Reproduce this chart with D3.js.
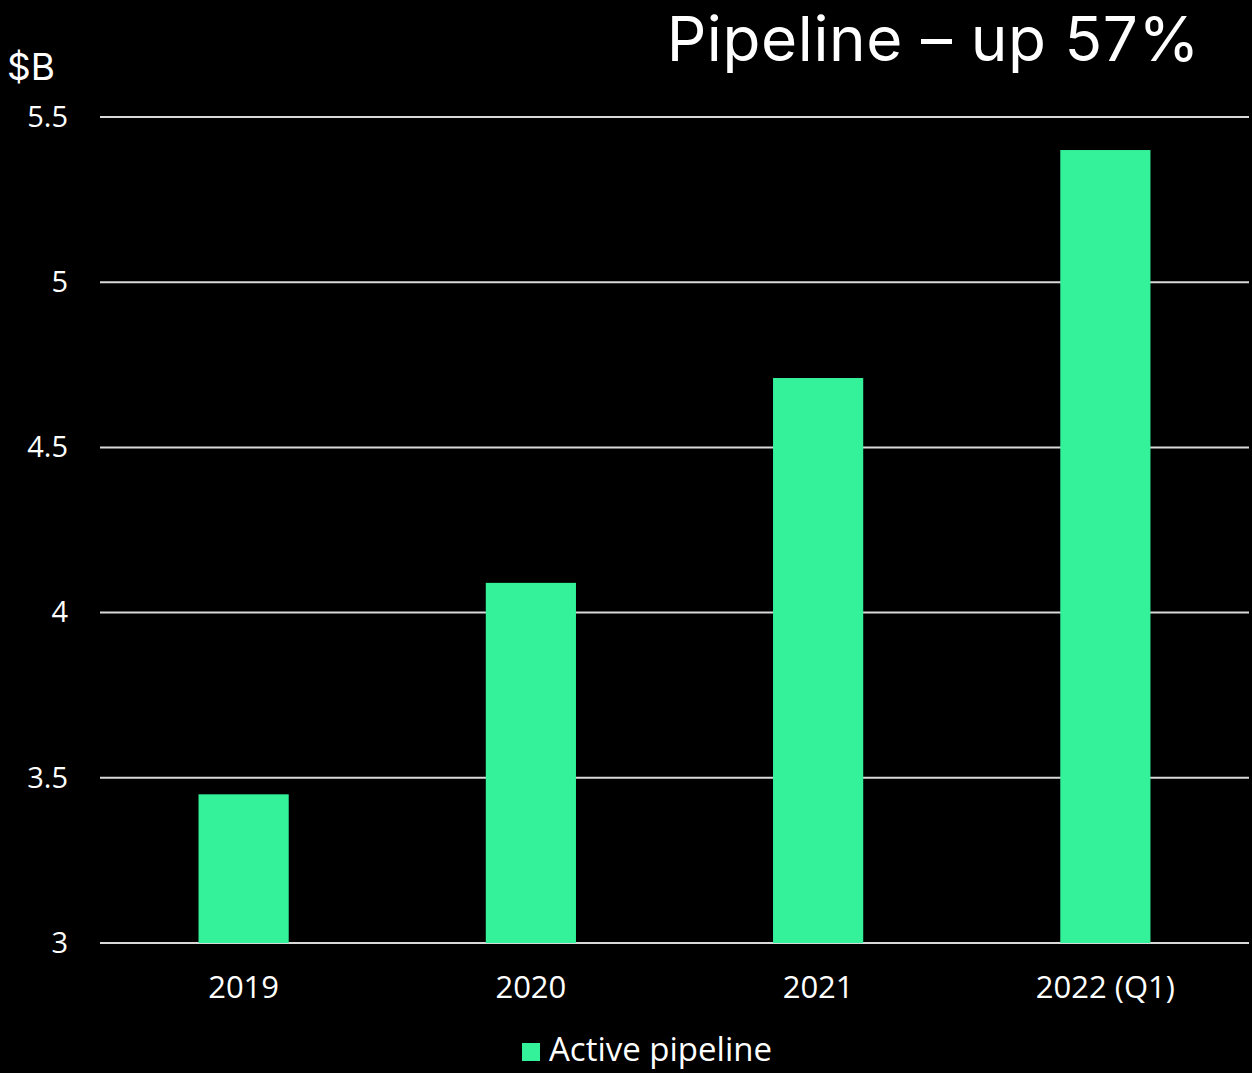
<!DOCTYPE html>
<html lang="en">
<head>
<meta charset="UTF-8">
<title>Pipeline</title>
<style>
    html, body { margin: 0; padding: 0; background: #000; }
    svg { display: block; }
</style>
</head>
<body>
<div id="content"></div>
<script src="https://d3js.org/d3.v7.min.js"></script>
<script>
    // data
    var years = ["2019", "2020", "2021", "2022 (Q1)"];
    var pipeline = [3.45, 4.09, 4.71, 5.40];
    var yTicks = [3, 3.5, 4, 4.5, 5, 5.5];
    var seriesName = "Active pipeline";

    var width = 1252, height = 1073;
    var margin = { top: 117, right: 3, bottom: 130, left: 100 };
    var green = "#33f29a";
    var labelFont = "'Open Sans', 'Noto Sans', sans-serif";

    var svg = d3.select("#content")
        .append("svg")
        .attr("width", width)
        .attr("height", height)
        .style("background", "#000");

    var x = d3.scaleBand()
        .domain(years)
        .range([margin.left, width - margin.right])
        .padding(0);

    var y = d3.scaleLinear()
        .domain([3, 5.5])
        .range([height - margin.bottom, margin.top]);

    // gridlines
    svg.append("g")
        .selectAll("line")
        .data(yTicks)
        .enter()
        .append("line")
        .attr("x1", margin.left)
        .attr("x2", width - margin.right)
        .attr("y1", function (d) { return y(d); })
        .attr("y2", function (d) { return y(d); })
        .attr("stroke", "#d9d9d9")
        .attr("stroke-width", 2);

    // y labels
    var yAxis = svg.append("g")
        .attr("transform", "translate(" + 68 + ",0)")
        .call(d3.axisLeft(y).tickValues(yTicks).tickSize(0).tickPadding(0)
            .tickFormat(function (d) { return String(d); }));
    yAxis.select(".domain").remove();
    yAxis.selectAll("text")
        .attr("fill", "#fff")
        .style("font", "29px " + labelFont);

    // bars
    var barW = x.bandwidth() * 0.314;
    svg.append("g")
        .selectAll("rect")
        .data(pipeline)
        .enter()
        .append("rect")
        .attr("x", function (d, i) { return x(years[i]) + (x.bandwidth() - barW) / 2; })
        .attr("y", function (d) { return y(d); })
        .attr("width", barW)
        .attr("height", function (d) { return y(3) - y(d); })
        .attr("fill", green);

    // x labels
    var xAxis = svg.append("g")
        .attr("transform", "translate(0," + (y(3) + 33) + ")")
        .call(d3.axisBottom(x).tickSize(0).tickPadding(0));
    xAxis.select(".domain").remove();
    xAxis.selectAll("text")
        .attr("fill", "#fff")
        .style("font", "31px " + labelFont);

    // title and unit
    svg.append("text")
        .attr("x", 1200)
        .attr("y", 61)
        .attr("text-anchor", "end")
        .attr("fill", "#fff")
        .style("font", "62px Inter, 'Noto Sans', sans-serif")
        .style("letter-spacing", "0.6px")
        .text("Pipeline \u2013 up 57%");

    svg.append("text")
        .attr("x", 7)
        .attr("y", 80)
        .attr("fill", "#fff")
        .style("font", "37px Inter, 'Noto Sans', sans-serif")
        .text("$B");

    // legend
    var legend = svg.append("g").attr("transform", "translate(522,1043)");
    legend.append("rect")
        .attr("width", 18)
        .attr("height", 18)
        .attr("fill", green);
    legend.append("text")
        .attr("x", 27)
        .attr("y", 18)
        .attr("fill", "#fff")
        .style("font", "33px " + labelFont)
        .text(seriesName);
</script>
</body>
</html>
